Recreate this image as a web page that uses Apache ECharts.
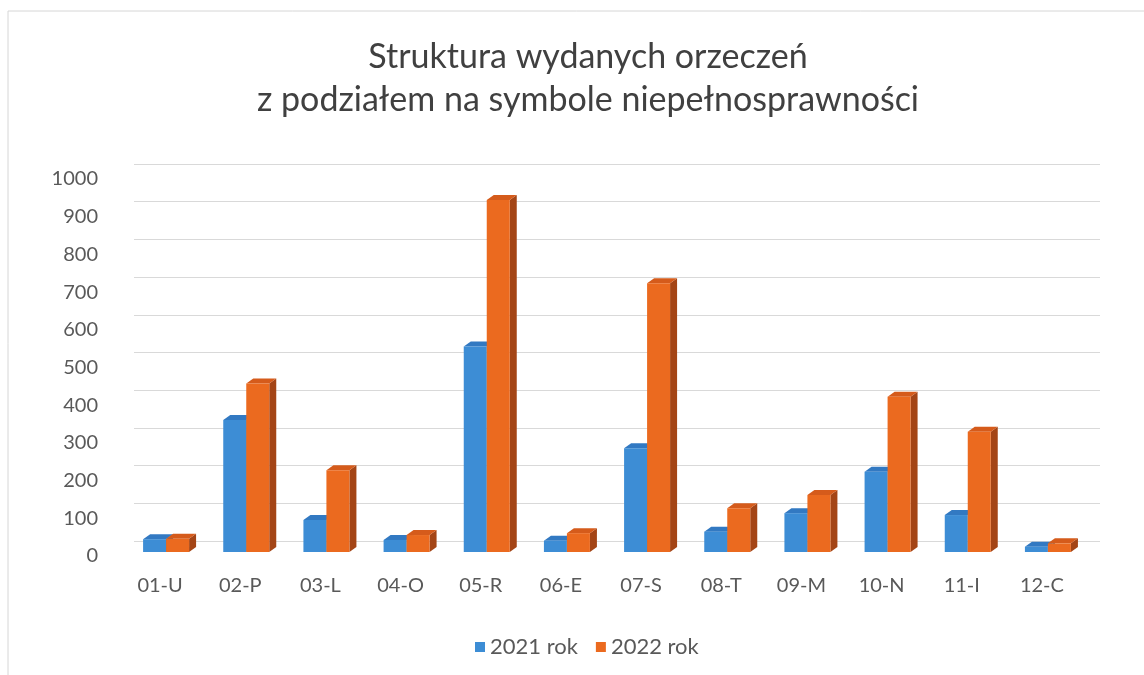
<!DOCTYPE html>
<html>
<head>
<meta charset="utf-8">
<style>
  html, body { margin: 0; padding: 0; background: #ffffff; }
  #chart_001 { width: 1144px; height: 675px; }
</style>
<script src="https://cdn.jsdelivr.net/npm/echarts@6/dist/echarts.min.js"></script>
</head>
<body>
<div id="chart_001"></div>
<script>
// dane wykresu
let categories = ['01-U', '02-P', '03-L', '04-O', '05-R', '06-E', '07-S', '08-T', '09-M', '10-N', '11-I', '12-C']
let values2021 = [34, 350, 85, 32, 545, 30, 275, 54, 103, 213, 98, 14]
let values2022 = [35, 447, 217, 45, 934, 50, 713, 116, 151, 412, 319, 23]
let seriesNames = ['2021 rok', '2022 rok']
let yTicks = { min: 0, max: 1000, interval: 100 }

// kolory: przód, bok, góra
let palette = [
  { front: '#3d8dd5', side: '#2b68a5', top: '#3279c2' },
  { front: '#eb6a1f', side: '#a44516', top: '#d55b1b' },
]

let barW = 23
let depth = [7, 5]
let font = 'Lato, "Open Sans", sans-serif'

// słupek 3D - przód, bok i góra
function bar3d(seriesIdx) {
  return function (params, api) {
    let base = api.coord([api.value(0), 0])
    let top = api.coord([api.value(0), api.value(1)])
    let c = palette[seriesIdx]
    let x0 = base[0] - 17 + seriesIdx * barW
    let x1 = x0 + barW
    let yb = base[1] - 4
    let yt = top[1] - 4
    let dx = depth[0], dy = depth[1]
    return {
      type: 'group',
      children: [
        {
          type: 'polygon',
          shape: { points: [[x1, yt], [x1 + dx, yt - dy], [x1 + dx, yb - dy], [x1, yb]] },
          style: { fill: c.side },
        },
        {
          type: 'polygon',
          shape: { points: [[x0, yt], [x0 + dx, yt - dy], [x1 + dx, yt - dy], [x1, yt]] },
          style: { fill: c.top },
        },
        {
          type: 'rect',
          shape: { x: x0, y: yt, width: barW, height: yb - yt },
          style: { fill: c.front },
        },
      ],
    }
  }
}

let myChart = echarts.init(document.getElementById('chart_001'))
let option = {
  animation: false,
  backgroundColor: '#ffffff',
  title: {
    text: 'Struktura wydanych orzeczeń\nz podziałem na symbole niepełnosprawności',
    left: 583,
    top: 31,
    textAlign: 'center',
    textStyle: {
      fontFamily: font,
      fontWeight: 'normal',
      fontSize: 34,
      lineHeight: 43,
      color: '#404040',
    },
  },
  legend: {
    data: seriesNames,
    left: 470,
    top: 631,
    icon: 'rect',
    itemWidth: 10,
    itemHeight: 10,
    itemGap: 18,
    textStyle: { fontFamily: font, fontSize: 22, color: '#595959' },
  },
  grid: [
    // przednia krawędź - etykiety
    { left: 120, right: 62, top: 179, bottom: 119 },
    // tylna ściana - linie siatki
    { left: 134, right: 44, top: 164, bottom: 134 },
  ],
  xAxis: [
    {
      type: 'category',
      gridIndex: 0,
      data: categories,
      axisLine: { show: false },
      axisTick: { show: false },
      axisLabel: { margin: 20, fontFamily: font, fontSize: 20, color: '#595959' },
    },
    { type: 'value', gridIndex: 1, show: false },
  ],
  yAxis: [
    {
      type: 'value',
      gridIndex: 0,
      min: yTicks.min,
      max: yTicks.max,
      interval: yTicks.interval,
      splitLine: { show: false },
      axisLine: { show: false },
      axisTick: { show: false },
      axisLabel: {
        margin: 22,
        fontFamily: font,
        fontSize: 20,
        color: '#595959',
        formatter: (v) => String(v),
      },
    },
    {
      type: 'value',
      gridIndex: 1,
      min: yTicks.min,
      max: yTicks.max,
      interval: yTicks.interval,
      axisLabel: { show: false },
      axisLine: { show: false },
      axisTick: { show: false },
      splitLine: { lineStyle: { color: '#d9d9d9', width: 1 } },
    },
  ],
  graphic: [
    {
      type: 'rect',
      shape: { x: 8, y: 11, width: 1150, height: 700 },
      style: { fill: 'none', stroke: '#d6d6d6', lineWidth: 1 },
      silent: true,
    },
  ],
  series: [
    {
      name: seriesNames[0],
      type: 'custom',
      xAxisIndex: 0,
      yAxisIndex: 0,
      itemStyle: { color: palette[0].front },
      renderItem: bar3d(0),
      encode: { x: 0, y: 1 },
      data: values2021.map((v, i) => [i, v]),
    },
    {
      name: seriesNames[1],
      type: 'custom',
      xAxisIndex: 0,
      yAxisIndex: 0,
      itemStyle: { color: palette[1].front },
      renderItem: bar3d(1),
      encode: { x: 0, y: 1 },
      data: values2022.map((v, i) => [i, v]),
    },
  ],
}
myChart.setOption(option)
window.onresize = myChart.resize
</script>
</body>
</html>
